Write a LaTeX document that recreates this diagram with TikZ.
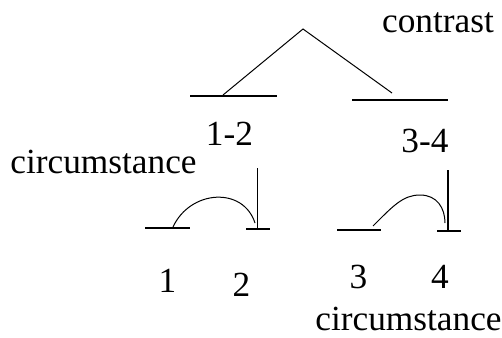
\documentclass[tikz,border=0pt]{standalone}
\usepackage{fontspec}
\setmainfont{Liberation Serif}
\begin{document}
\begin{tikzpicture}[x=1pt,y=-1pt,
  lbl/.style={anchor=base,inner sep=0pt,font=\fontsize{35.3}{39}\selectfont},
  span/.style={line width=2pt},
  rel/.style={line width=1pt},
  nuc/.style={line width=1.5pt}]
\useasboundingbox (0,0) rectangle (502,337);
% top level
\coordinate (apex) at (303,29);
\coordinate (L12a) at (190,95.5);
\coordinate (L12b) at (277,95.5);
\coordinate (L12m) at (223,95);
\coordinate (L34a) at (352,100);
\coordinate (L34b) at (448,100);
\coordinate (L34m) at (392,93);
\draw[span] (L12a) -- (L12b);
\draw[span] (L34a) -- (L34b);
\draw[rel] (L12m) -- (apex) -- (L34m);
% left sub-tree
\coordinate (s1a) at (145,227.5);
\coordinate (s1b) at (190,227.5);
\coordinate (s1m) at (173,227);
\coordinate (s2a) at (246,228.5);
\coordinate (s2b) at (270,228.5);
\coordinate (s2top) at (257.5,168);
\coordinate (s2bot) at (257.5,228.5);
\coordinate (s2m) at (255,223);
\draw[span] (s1a) -- (s1b);
\draw[span] (s2a) -- (s2b);
\draw[nuc] (s2top) -- (s2bot);
\draw[rel] (s1m) .. controls (190,190) and (243,186) .. (s2m);
% right sub-tree
\coordinate (s3a) at (337,230);
\coordinate (s3b) at (381,230);
\coordinate (s3m) at (373,226);
\coordinate (s4a) at (437,231);
\coordinate (s4b) at (461,231);
\coordinate (s4top) at (448,170);
\coordinate (s4bot) at (448,231);
\coordinate (s4m) at (445,223);
\draw[span] (s3a) -- (s3b);
\draw[span] (s4a) -- (s4b);
\draw[nuc] (s4top) -- (s4bot);
\draw[rel] (s3m) .. controls (393,206) and (403,195) .. (420,195)
  .. controls (437,195) and (445,208) .. (s4m);
% labels
\node[lbl] (contrast) at (438,33) {contrast};
\node[lbl] (t12) at (229.5,145) {1-2};
\node[lbl] (t34) at (425,152) {3-4};
\node[lbl] (circL) at (103.5,173) {circumstance};
\node[lbl] (t1) at (167.5,292) {1};
\node[lbl] (t2) at (241.5,296) {2};
\node[lbl] (t3) at (358.5,288) {3};
\node[lbl] (t4) at (440,288) {4};
\node[lbl] (circR) at (408.5,330) {circumstance};
\end{tikzpicture}
\end{document}
